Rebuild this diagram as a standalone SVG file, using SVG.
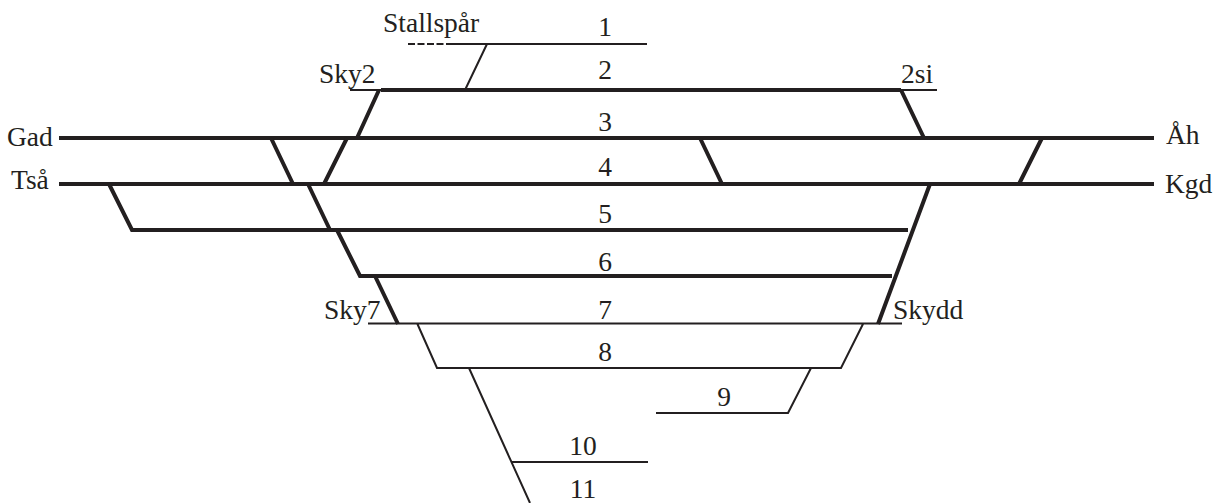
<svg xmlns="http://www.w3.org/2000/svg" width="1215" height="503" viewBox="0 0 1215 503">
<style>
.t{fill:none;stroke:#231f20;stroke-width:4}
.n{fill:none;stroke:#231f20;stroke-width:2}
text{font-family:"Liberation Serif","Times New Roman",serif;font-size:27.500px;fill:#231f20}
.m{text-anchor:middle}
</style>
<rect width="1215" height="503" fill="#fff"/>
<g id="connectors">
<path class="n" d="M450 44H647M487 44L465 90"/>
<path class="n" d="M408 44H450" stroke-dasharray="7 2.500"/>
<path class="n" d="M350 90H381M901 90H937"/>
<path class="t" d="M381 90H901M379 90L357 138M901 90L924 138"/>
<path class="t" d="M59 138H1154M59 184H1154"/>
<path class="t" d="M271 138L293 184M347 138L324 184M700 138L722 184M1042 138L1019 184"/>
<path class="t" d="M109 184L132 230H908M308 184L330 230M337 230L360 276H892M930 184L878 324M375 276L398 324"/>
<path class="n" d="M368 323.500H902M417 323L437 368H841L863 324M469 368L530 503M811 368L788 413H656M511 462H648"/>
</g>
<g id="labels">
<text x="383" y="32">Stallspår</text>
<text x="605" y="36" class="m">1</text>
<text x="605" y="79" class="m">2</text>
<text x="319" y="83">Sky2</text>
<text x="901" y="83">2si</text>
<text x="605" y="131" class="m">3</text>
<text x="7" y="146">Gad</text>
<text x="1166" y="144">Åh</text>
<text x="605" y="176" class="m">4</text>
<text x="11" y="189">Tså</text>
<text x="1165" y="193">Kgd</text>
<text x="605" y="223" class="m">5</text>
<text x="605" y="271" class="m">6</text>
<text x="324" y="319">Sky7</text>
<text x="605" y="319" class="m">7</text>
<text x="893" y="319">Skydd</text>
<text x="605" y="361" class="m">8</text>
<text x="724" y="406" class="m">9</text>
<text x="583" y="455" class="m">10</text>
<text x="583" y="498" class="m">11</text>
</g>
</svg>
